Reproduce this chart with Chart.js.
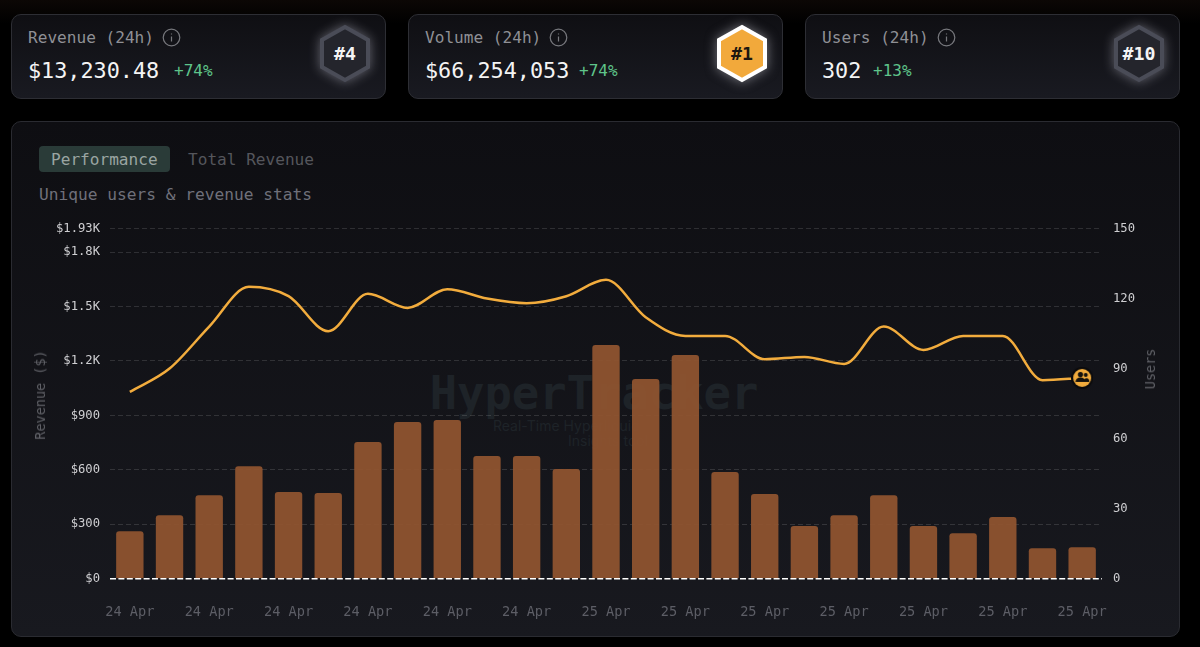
<!DOCTYPE html>
<html>
<head>
<meta charset="utf-8">
<title>HyperTracker stats</title>
<script src="https://cdn.jsdelivr.net/npm/chart.js@4"></script>
<style>
  html, body { margin: 0; padding: 0; width: 1200px; height: 647px; overflow: hidden; }
  body { background: linear-gradient(#0c0705 0, #000 24px); position: relative; font-family: "DejaVu Sans Mono", monospace; }
  .card { position: absolute; top: 14px; width: 373px; height: 83px; border: 1px solid #2d2e34; border-radius: 10px;
          background: linear-gradient(#0f0f13, #191a21); }
  .card .name { position: absolute; left: 16px; top: 13px; font-size: 16.1px; line-height: 20px; color: #8f9095; }
  .card .info { position: absolute; top: 13px; }
  .card .value { position: absolute; left: 16px; top: 42px; font-size: 21.8px; line-height: 28px; color: #f4f4f4; }
  .card .delta { position: absolute; top: 46px; font-size: 16px; line-height: 20px; color: #5fc48a; }
  .card svg.hex { position: absolute; left: 306px; top: 9px; overflow: visible; }
  .panel { position: absolute; left: 11px; top: 121px; width: 1167px; height: 514px; border: 1px solid #2a2b31; border-radius: 10px;
           background: linear-gradient(#0e0e12, #18191f); }
  .pill { position: absolute; left: 39px; top: 146px; width: 131px; height: 26px; border-radius: 4px; background: #2a3b38; }
  .txt { position: absolute; white-space: nowrap; font-size: 16.1px; line-height: 20px; }
  .wm { position: absolute; white-space: nowrap; text-align: center; color: #1e2328; }
  canvas { position: absolute; left: 0; top: 0; }
</style>
</head>
<body>
  <div class="card" style="left:11px">
    <div class="name">Revenue (24h)</div>
    <svg class="info" style="left:149.5px" width="19" height="19"><circle cx="9.5" cy="9.5" r="8.3" fill="none" stroke="#77787d" stroke-width="1.2"/><path d="M9.5 8.5v5M9.5 5.6v1" stroke="#77787d" stroke-width="1.2"/></svg>
    <div class="value">$13,230.48</div>
    <div class="delta" style="left:162px">+74%</div>
    <svg class="hex" width="54" height="60"><path d="M27 3L50 16V43L27 56L4 43V16Z" fill="#24252c" stroke="#4a4c57" stroke-width="4" style="filter:drop-shadow(0 0 6px rgba(200,200,215,.45))"/><text x="27" y="36" text-anchor="middle" font-family="DejaVu Sans Mono" font-weight="bold" font-size="18.3" fill="#f4f4f4">#4</text></svg>
  </div>
  <div class="card" style="left:408px">
    <div class="name">Volume (24h)</div>
    <svg class="info" style="left:139.5px" width="19" height="19"><circle cx="9.5" cy="9.5" r="8.3" fill="none" stroke="#77787d" stroke-width="1.2"/><path d="M9.5 8.5v5M9.5 5.6v1" stroke="#77787d" stroke-width="1.2"/></svg>
    <div class="value">$66,254,053</div>
    <div class="delta" style="left:170px">+74%</div>
    <svg class="hex" width="54" height="60"><path d="M27 3L50 16V43L27 56L4 43V16Z" fill="#f2a93b" stroke="#fff" stroke-width="4" style="filter:drop-shadow(0 0 6px rgba(220,220,230,.5))"/><text x="27" y="36" text-anchor="middle" font-family="DejaVu Sans Mono" font-weight="bold" font-size="18.3" fill="#1c1710">#1</text></svg>
  </div>
  <div class="card" style="left:805px">
    <div class="name">Users (24h)</div>
    <svg class="info" style="left:130.5px" width="19" height="19"><circle cx="9.5" cy="9.5" r="8.3" fill="none" stroke="#77787d" stroke-width="1.2"/><path d="M9.5 8.5v5M9.5 5.6v1" stroke="#77787d" stroke-width="1.2"/></svg>
    <div class="value">302</div>
    <div class="delta" style="left:67px">+13%</div>
    <svg class="hex" width="54" height="60"><path d="M27 3L50 16V43L27 56L4 43V16Z" fill="#24252c" stroke="#4a4c57" stroke-width="4" style="filter:drop-shadow(0 0 6px rgba(200,200,215,.45))"/><text x="27" y="36" text-anchor="middle" font-family="DejaVu Sans Mono" font-weight="bold" font-size="18.3" fill="#f4f4f4">#10</text></svg>
  </div>

  <div class="panel"></div>
  <div class="pill"></div>
  <div class="txt" style="left:51px;top:150px;color:#9aa5a2">Performance</div>
  <div class="txt" style="left:188px;top:150px;color:#55565c">Total Revenue</div>
  <div class="txt" style="left:39px;top:185px;color:#6f707a;font-size:16.2px">Unique users &amp; revenue stats</div>

  <div class="wm" style="left:394px;top:367px;width:400px;font-size:45.5px;line-height:54px;font-weight:bold">HyperTracker</div>
  <div class="wm" style="left:493px;top:417px;font:14px/17px 'Inter',sans-serif">Real-Time Hyperliquid</div>
  <div class="wm" style="left:568px;top:432px;font:14px/17px 'Inter',sans-serif">Insights tool</div>

  <canvas id="myChart" width="1200" height="647"></canvas>

  <div class="txt" style="left:40px;top:395px;font-size:13.5px;color:#5f6066;transform:translate(-50%,-50%) rotate(-90deg)">Revenue ($)</div>
  <div class="txt" style="left:1150px;top:369px;font-size:13.5px;color:#5f6066;transform:translate(-50%,-50%) rotate(-90deg)">Users</div>

<script>
const days = ["24 Apr","24 Apr","24 Apr","24 Apr","24 Apr","24 Apr","24 Apr","24 Apr","24 Apr","24 Apr","24 Apr","24 Apr",
  "25 Apr","25 Apr","25 Apr","25 Apr","25 Apr","25 Apr","25 Apr","25 Apr","25 Apr","25 Apr","25 Apr","25 Apr","25 Apr"];
const revenue = [262,350,460,620,478,472,753,864,875,676,676,604,1288,1100,1233,588,467,290,350,460,290,251,340,168,174];
const users = [80,90,108,125,121,106,122,116,124,120,118,121,128,112,104,104,94,95,92,108,98,104,104,85,86];
const revenueTicks = [0,300,600,900,1200,1500,1800,1930];
const xLabelIndexes = [0,2,4,6,8,10,12,14,16,18,20,22,24];

// round marker with the users glyph for the last point of the line
function usersMarker() {
  const c = document.createElement("canvas");
  c.width = 22; c.height = 22;
  const g = c.getContext("2d");
  g.fillStyle = "#0b0b0d";
  g.beginPath(); g.arc(11, 11, 11, 0, Math.PI * 2); g.fill();
  g.fillStyle = "#f2ac3d";
  g.beginPath(); g.arc(11, 11, 9, 0, Math.PI * 2); g.fill();
  g.fillStyle = "#14120e";
  g.beginPath(); g.arc(9.3, 7.6, 2.6, 0, Math.PI * 2); g.arc(14.6, 8, 2, 0, Math.PI * 2); g.fill();
  g.beginPath(); g.ellipse(9.3, 15, 5, 4.5, 0, Math.PI, 0); g.fill();
  g.beginPath(); g.ellipse(15.4, 15, 2.8, 3.8, 0, Math.PI, 0); g.fill();
  return c;
}
const marker = usersMarker();

// white dashed base line, on top of the bars
const zeroLine = {
  id: "zeroLine",
  afterDatasetsDraw(chart) {
    const { ctx, chartArea, scales } = chart;
    const y = scales.yRevenue.getPixelForValue(0);
    ctx.save();
    ctx.strokeStyle = "#ffffff";
    ctx.lineWidth = 1.5;
    ctx.setLineDash([6, 2.4]);
    ctx.beginPath();
    ctx.moveTo(chartArea.left, y);
    ctx.lineTo(chartArea.right, y);
    ctx.stroke();
    ctx.restore();
  },
};

new Chart(document.getElementById("myChart"), {
  plugins: [zeroLine],
  data: {
    labels: days,
    datasets: [
      {
        type: "line",
        label: "Users",
        data: users,
        yAxisID: "yUsers",
        borderColor: "#f2ac3d",
        borderWidth: 2.5,
        cubicInterpolationMode: "monotone",
        pointRadius: (c) => (c.dataIndex === users.length - 1 ? 11 : 0),
        pointStyle: (c) => (c.dataIndex === users.length - 1 ? marker : "circle"),
        order: 0,
      },
      {
        type: "bar",
        label: "Revenue",
        data: revenue,
        yAxisID: "yRevenue",
        backgroundColor: "rgba(143,84,48,0.94)",
        borderRadius: { topLeft: 3, topRight: 3 },
        borderSkipped: false,
        barPercentage: 0.69,
        categoryPercentage: 1,
        order: 1,
      },
    ],
  },
  options: {
    responsive: false,
    animation: false,
    layout: { padding: { top: 228.5 } },
    plugins: { legend: { display: false }, tooltip: { enabled: false } },
    scales: {
      x: {
        grid: { display: false },
        border: { display: false },
        afterFit: (s) => { s.height = 68.3; },
        ticks: {
          color: "#5d5e66",
          padding: 18,
          autoSkip: false,
          maxRotation: 0,
          font: { family: "DejaVu Sans Mono", size: 13.6 },
          callback: function (v, i) { return xLabelIndexes.includes(i) ? this.getLabelForValue(v) : ""; },
        },
      },
      yRevenue: {
        position: "left",
        min: 0,
        max: 1930,
        afterBuildTicks: (s) => { s.ticks = revenueTicks.map((v) => ({ value: v })); },
        afterFit: (s) => { s.width = 110; },
        grid: {
          color: (c) => (c.tick.value === 0 ? "transparent" : "rgba(255,255,255,0.13)"),
          drawTicks: false,
        },
        border: { display: false, dash: [5, 3] },
        ticks: {
          color: "#cfcfd2",
          padding: 10,
          font: { family: "DejaVu Sans Mono", size: 12.2 },
          callback: (v) => (v >= 1000 ? "$" + v / 1000 + "K" : "$" + v),
        },
      },
      yUsers: {
        position: "right",
        min: 0,
        max: 150,
        afterFit: (s) => { s.width = 98; },
        grid: { display: false, drawTicks: false },
        border: { display: false },
        ticks: {
          color: "#cfcfd2",
          padding: 11,
          stepSize: 30,
          font: { family: "DejaVu Sans Mono", size: 12.2 },
        },
      },
    },
  },
});
</script>
</body>
</html>
